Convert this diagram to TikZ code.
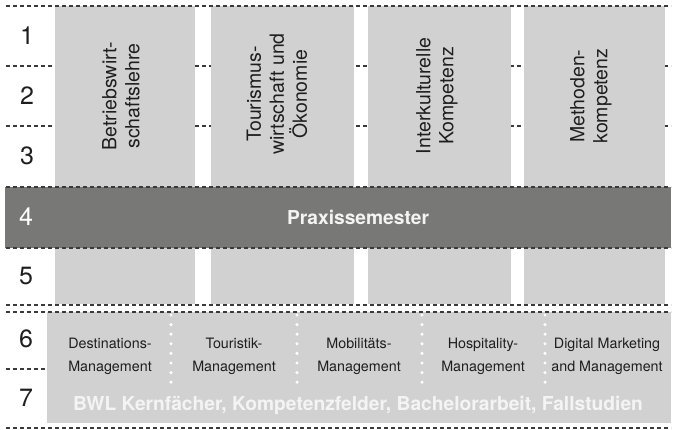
\documentclass[tikz,border=0pt]{standalone}
\usepackage{fontspec}
\setmainfont{TeX Gyre Heros}
\definecolor{lgray}{HTML}{D0D1D0}
\definecolor{dgray}{HTML}{787876}
\definecolor{dashc}{HTML}{3A3A3A}
\definecolor{txt}{HTML}{1E1E1E}
\definecolor{wtxt}{HTML}{F4F4F4}
\tikzset{
  dashline/.style={draw=dashc, line width=1.3pt, dash pattern=on 4pt off 3pt},
  dotline/.style={draw=white, line width=3.4pt, line cap=round, dash pattern=on 0pt off 9.6pt},
  numlbl/.style={text=txt, font=\fontsize{25}{30}\selectfont, inner sep=0pt},
  collbl/.style={text=txt, rotate=90, align=center, font=\fontsize{19.5}{23}\selectfont, inner sep=0pt},
  botlbl/.style={text=txt, align=center, font=\fontsize{14.3}{23}\selectfont, inner sep=0pt},
  boldlbl/.style={text=wtxt, font=\bfseries\fontsize{19.2}{22}\selectfont, inner sep=0pt}
}
\begin{document}
\begin{tikzpicture}[x=1pt,y=-1pt]
\useasboundingbox (0,0) rectangle (673,430);
% background dashed lines (behind columns)
\draw[dashline] (6,66) -- (671,66);
\draw[dashline] (6,126) -- (671,126);
\draw[dashline] (6,369) -- (47,369);
% columns
\fill[lgray] (55,6) rectangle (195,304);
\fill[lgray] (211,6) rectangle (354,304);
\fill[lgray] (368,6) rectangle (511,304);
\fill[lgray] (524,6) rectangle (665,304);
% Praxis band
\fill[dgray] (5,187) rectangle (671,248);
% bottom box
\fill[lgray] (47,312) rectangle (671,423);
% full dashed lines
\foreach \yy in {6,187,248,305,312,428}{
  \draw[dashline] (6,\yy) -- (671,\yy);
}
% dotted separators
\foreach \xx in {171,297,422,545}{
  \draw[dotline] (\xx,315) -- (\xx,386);
}
% row numbers
\node[numlbl] (n1) at (27,36) {1};
\node[numlbl] (n2) at (27,96) {2};
\node[numlbl] (n3) at (27,156) {3};
\node[numlbl, text=white] (n4) at (26,217) {4};
\node[numlbl] (n5) at (26,276) {5};
\node[numlbl] (n6) at (26,339) {6};
\node[numlbl] (n7) at (26,398) {7};
% column labels
\node[collbl] (c1) at (121,96) {Betriebswirt-\\schaftslehre};
\node[collbl] (c2) at (277,94) {Tourismus-\\wirtschaft und\\Ökonomie};
\node[collbl] (c3) at (437,96) {Interkulturelle\\Kompetenz};
\node[collbl] (c4) at (591,96) {Methoden-\\kompetenz};
% Praxissemester
\node[boldlbl] (p) at (358,217) {Praxissemester};
% bottom labels
\node[botlbl] (b1) at (110,356) {Destinations-\\Management};
\node[botlbl] (b2) at (234,356) {Touristik-\\Management};
\node[botlbl] (b3) at (359,356) {Mobilitäts-\\Management};
\node[botlbl] (b4) at (483,356) {Hospitality-\\Management};
\node[botlbl] (b5) at (607,356) {Digital Marketing\\and Management};
\node[boldlbl] (bwl) at (358,405) {BWL Kernfächer, Kompetenzfelder, Bachelorarbeit, Fallstudien};
\end{tikzpicture}
\end{document}
